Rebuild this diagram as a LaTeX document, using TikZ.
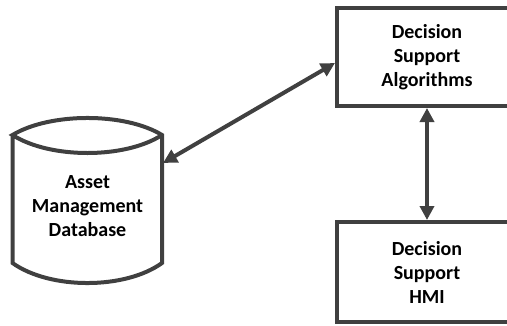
\documentclass[tikz,border=0pt]{standalone}
\usepackage{fontspec}
\setmainfont{Carlito}
\usepackage{tikz}
\usetikzlibrary{arrows.meta}
\definecolor{linegray}{HTML}{404040}

\begin{document}
\begin{tikzpicture}[x=1pt,y=-1pt,
    block/.style={draw=linegray, line width=4pt, align=center, minimum width=180pt, minimum height=98pt, font=\fontsize{20}{24}\selectfont\bfseries},
    store/.style={align=center, outer sep=0pt, minimum width=151pt, minimum height=158pt, font=\fontsize{20}{24}\selectfont\bfseries},
    outline/.style={draw=linegray, line width=4pt, line join=miter},
    arrow/.style={{Triangle[length=14pt,width=14pt]}-{Triangle[length=14pt,width=14pt]}, line width=4pt, draw=linegray}
  ]
    \useasboundingbox (0,0) rectangle (507,325);
    \node[block] (alg) at (427,57) {Decision\\ Support\\ Algorithms};
    \node[block, minimum height=100pt] (hmi) at (427,272) {Decision\\ Support\\ HMI};
    \node[store] (db) at (87.5,206) {Asset\\ Management\\ Database};
    % cylinder outline round the database node
    \draw[outline] (12.5,135) -- (12.5,263)
      .. controls (50,289.7) and (125,289.7) .. (162,263)
      -- (162,135)
      .. controls (125,112.3) and (50,112.3) .. (12.5,135)
      .. controls (50,159) and (125,159) .. (162,135);
    \draw[arrow] ([yshift=43pt]db.east) -- ([yshift=-6pt]alg.west);
    \draw[arrow] (alg) -- (hmi);
  \end{tikzpicture}
\end{document}
